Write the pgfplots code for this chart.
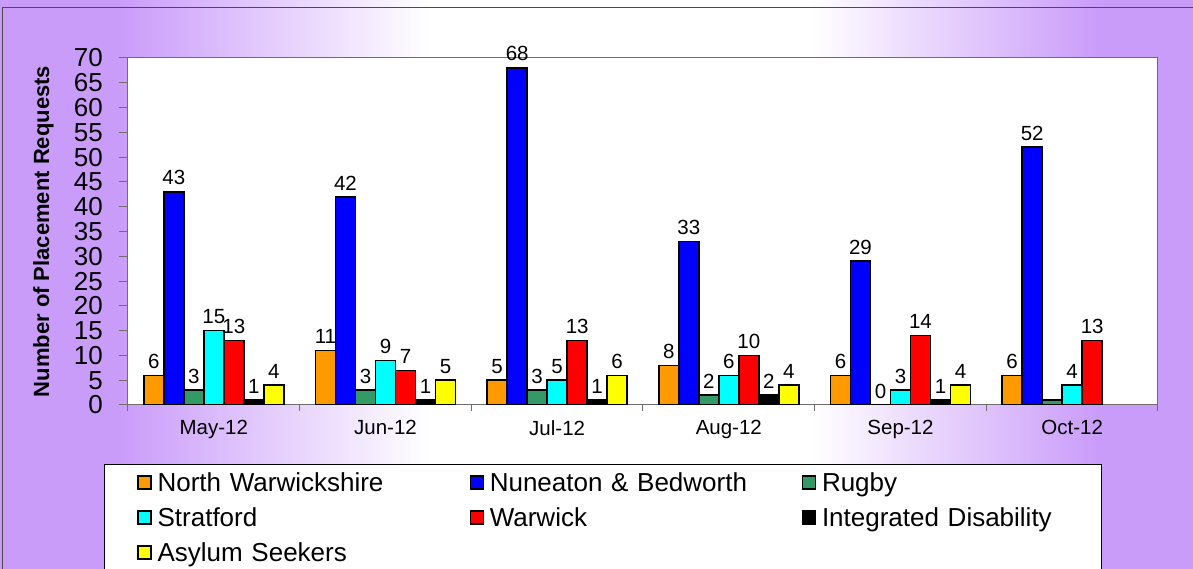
\documentclass[border=0pt]{standalone}
\usepackage{fontspec}
\setmainfont{Liberation Sans}
\usepackage{pgfplots}
\pgfplotsset{compat=1.18}

\definecolor{bgpurple}{RGB}{202,156,250}
\definecolor{cNorth}{RGB}{255,153,0}
\definecolor{cNun}{RGB}{0,0,255}
\definecolor{cRugby}{RGB}{51,153,102}
\definecolor{cStrat}{RGB}{0,255,255}
\definecolor{cWarw}{RGB}{255,0,0}
\definecolor{cInteg}{RGB}{0,0,0}
\definecolor{cAsyl}{RGB}{255,255,0}
\definecolor{axgray}{RGB}{110,110,110}

% tikz fits the path into the middle 25bp..75bp of the shading
\pgfdeclarehorizontalshading{bgshade}{100bp}{color(0bp)=(bgpurple); color(30bp)=(bgpurple); color(43bp)=(white); color(59bp)=(white); color(71bp)=(bgpurple); color(100bp)=(bgpurple)}

\begin{document}
\begin{tikzpicture}
\useasboundingbox (-128pt,-164pt) rectangle (1065pt,405pt);
\shade[shading=bgshade] (-128pt,-164pt) rectangle (1065pt,405pt);
\draw[line width=1pt, black!70] (-125pt,-170pt) -- (-125pt,397pt) -- (1070pt,397pt);
\begin{axis}[
    scale only axis,
    width=1030pt, height=347pt,
    axis background/.style={fill=white},
    axis line style={draw=axgray, line width=1pt},
    ybar=0pt, bar width=20pt,
    ymin=0, ymax=70, ytick={0,5,...,70},
    xmin=-0.5, xmax=5.5,
    xtick={0,...,5},
    xticklabels={May-12,Jun-12,Jul-12,Aug-12,Sep-12,Oct-12},
    minor xtick={-0.5,0.5,...,5.5},
    xtick pos=bottom, ytick pos=left,
    tick align=outside,
    major tick length=9pt, minor tick length=6pt,
    major x tick style={draw=none},
    minor x tick style={draw=axgray, line width=1pt},
    ytick style={draw=axgray, line width=1pt},
    /pgf/number format/assume math mode=true,
    yticklabel style={font=\fontsize{26}{26}\selectfont, inner sep=0pt, xshift=-16pt},
    xticklabel style={font=\fontsize{20.5}{20.5}\selectfont, inner sep=0pt, yshift=-6pt},
    ylabel={\bfseries Number of Placement Requests},
    ylabel style={font=\fontsize{22}{22}\selectfont, at={(axis description cs:-0.082,0.5)}, anchor=center},
    point meta=explicit symbolic,
    nodes near coords,
    every node near coord/.append style={font=\fontsize{20.5}{20.5}\selectfont, inner sep=0pt, yshift=6pt},
    legend columns=3,
    legend cell align=left,
    legend image code/.code={\draw[#1,/tikz/.cd,draw=black,line width=1.2pt] (0pt,-7pt) rectangle (13pt,6pt);},
    legend style={at={(axis description cs:0,0)}, anchor=north west, xshift=-24pt, yshift=-59pt,
        draw=black, line width=0.8pt, fill=white, inner xsep=33pt, inner ysep=0pt,
        font=\fontsize{26}{26}\selectfont,
        nodes={text width=308pt, align=left, inner xsep=4pt, inner ysep=6.5pt, text height=20.3pt, text depth=1.7pt},
        /tikz/column 6/.style={nodes={text width=242pt}},
        /tikz/every odd column/.style={column sep=2pt}},
]
\addplot[fill=cNorth, draw=black, line width=1.5pt] table[x=x,y=y,meta=l] {
x y l
0 6 6
1 11 11
2 5 5
3 8 8
4 6 6
5 6 6
};
\addlegendentry{North Warwickshire}
\addplot[fill=cNun, draw=black, line width=1.5pt] table[x=x,y=y,meta=l] {
x y l
0 43 43
1 42 42
2 68 68
3 33 33
4 29 29
5 52 52
};
\addlegendentry{Nuneaton \& Bedworth}
\addplot[fill=cRugby, draw=black, line width=1.5pt] table[x=x,y=y,meta=l] {
x y l
0 3 3
1 3 3
2 3 3
3 2 2
4 0 0
5 1 {}
};
\addlegendentry{Rugby}
\addplot[fill=cStrat, draw=black, line width=1.5pt] table[x=x,y=y,meta=l] {
x y l
0 15 15
1 9 9
2 5 5
3 6 6
4 3 3
5 4 4
};
\addlegendentry{Stratford}
\addplot[fill=cWarw, draw=black, line width=1.5pt] table[x=x,y=y,meta=l] {
x y l
0 13 13
1 7 7
2 13 13
3 10 10
4 14 14
5 13 13
};
\addlegendentry{Warwick}
\addplot[fill=cInteg, draw=black, line width=1.5pt] table[x=x,y=y,meta=l] {
x y l
0 1 1
1 1 1
2 1 1
3 2 2
4 1 1
};
\addlegendentry{Integrated Disability}
\addplot[fill=cAsyl, draw=black, line width=1.5pt] table[x=x,y=y,meta=l] {
x y l
0 4 4
1 5 5
2 6 6
3 4 4
4 4 4
};
\addlegendentry{Asylum Seekers}
\end{axis}
\end{tikzpicture}
\end{document}
